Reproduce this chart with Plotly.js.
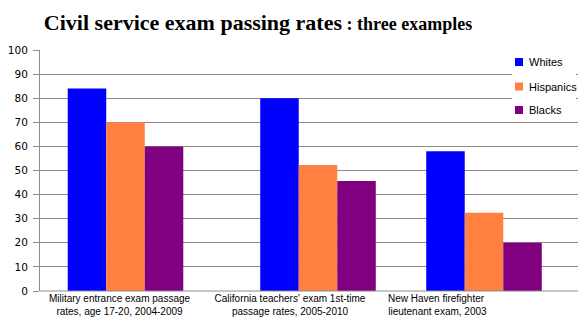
<!DOCTYPE html>
<html>
<head>
<meta charset="utf-8">
<script src="https://cdn.plot.ly/plotly-3.0.1.min.js"></script>
<style>html,body{margin:0;padding:0;background:#fff;}#chart{width:578px;height:334px;}</style>
</head>
<body>
<div id="chart"></div>
<script>
// ---- data ----
var categories = [
  "Military entrance exam passage<br>rates, age 17-20, 2004-2009",
  "California teachers' exam 1st-time<br>passage rates, 2005-2010",
  "New Haven firefighter<br> lieutenant exam, 2003"
];
var seriesNames = ["Whites", "Hispanics", "Blacks"];
var whites    = [84, 80, 58];
var hispanics = [70, 52.3, 32.5];
var blacks    = [60, 45.6, 20];
var yTicks = [0, 10, 20, 30, 40, 50, 60, 70, 80, 90, 100];

// ---- layout constants ----
var colors = ["#0000FF", "#FF8040", "#800080"];
var groupPos = [85.5, 278, 444];   // bar-group centres on the x axis
var labelPos = [79.5, 250, 396];   // category label centres on the x axis
var M = {l: 40, r: 0, t: 50, b: 43};
var W = 578, H = 334;
var plotW = W - M.l - M.r, plotH = H - M.t - M.b;
function px(x) { return (x - M.l) / plotW; }
function py(y) { return (H - M.b - y) / plotH; }

var values = [whites, hispanics, blacks];
var traces = seriesNames.map(function (n, i) {
  return {
    type: "bar", name: n, x: groupPos, y: values[i],
    marker: {color: colors[i], line: {width: 0}},
    showlegend: false, hoverinfo: "y+name"
  };
});

// manual legend
var shapes = [{
  type: "rect", xref: "paper", yref: "paper", layer: "above",
  x0: px(512), x1: px(576), y0: py(51), y1: py(121),
  fillcolor: "#ffffff", line: {width: 0}
}];
var annotations = [];
var legY = [62, 86.5, 110];
seriesNames.forEach(function (n, i) {
  shapes.push({
    type: "rect", xref: "paper", yref: "paper", layer: "above",
    x0: px(515), x1: px(523), y0: py(legY[i] - 4), y1: py(legY[i] + 4),
    fillcolor: colors[i], line: {width: 0}
  });
  annotations.push({
    xref: "paper", yref: "paper", x: px(527), y: py(legY[i]),
    xanchor: "left", yanchor: "middle", showarrow: false, text: n,
    font: {family: "Liberation Sans, Arial, sans-serif", size: 11, color: "#000"}
  });
});

var layout = {
  width: W, height: H, margin: M,
  paper_bgcolor: "#fff", plot_bgcolor: "#fff",
  barmode: "group", bargap: 0.304, bargroupgap: 0,
  title: {
    text: "<b>Civil service exam passing rates<span style='font-size:18px'> : three examples</span></b>",
    font: {family: "Liberation Serif, Times New Roman, serif", size: 22, color: "#000"},
    x: 258 / W, xanchor: "center", xref: "container",
    y: 1 - 22 / H, yanchor: "middle", yref: "container"
  },
  xaxis: {
    range: [0, plotW], showgrid: false, zeroline: false,
    showline: false, ticks: "",
    tickmode: "array", tickvals: labelPos, ticktext: categories,
    tickfont: {family: "Liberation Sans, Arial, sans-serif", size: 10, color: "#000"},
    fixedrange: true
  },
  yaxis: {
    range: [0, 100], tickmode: "array", tickvals: yTicks,
    showgrid: true, gridcolor: "#8c8c8c", gridwidth: 1,
    zeroline: false, showline: true, linecolor: "#8c8c8c", linewidth: 1,
    ticks: "outside", ticklen: 6, tickcolor: "#8c8c8c",
    ticklabelstandoff: 3,
    tickfont: {family: "DejaVu Sans, Verdana, sans-serif", size: 10.5, color: "#000"},
    fixedrange: true
  },
  shapes: shapes.concat([{
    type: "line", xref: "paper", yref: "paper", x0: 0, x1: 1, y0: 0, y1: 0,
    line: {color: "#8c8c8c", width: 1}
  }]),
  annotations: annotations,
  showlegend: false
};

Plotly.newPlot("chart", traces, layout, {staticPlot: true, displayModeBar: false});
</script>
</body>
</html>
